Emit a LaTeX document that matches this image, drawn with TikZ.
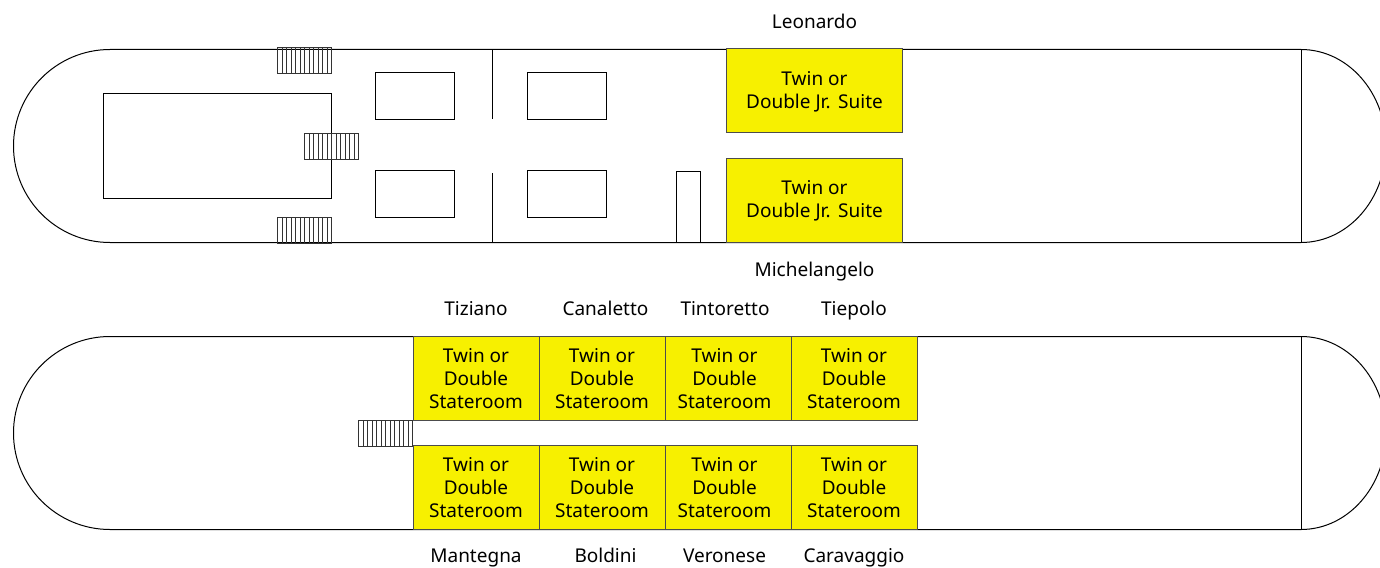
\documentclass[tikz,border=0pt]{standalone}
\usepackage{fontspec}
\setmainfont{Noto Sans}
\definecolor{cabinyellow}{HTML}{F7F000}
\tikzset{
  deck/.style={draw=black, line width=0.75pt},
  cabin/.style={deck, draw=black!70, fill=cabinyellow},
  cabintext/.style={align=center, font=\fontsize{14.25pt}{17.25pt}\selectfont, inner sep=0pt, text=black, anchor=base},
  deckname/.style={font=\fontsize{14.25pt}{17.25pt}\selectfont, inner sep=0pt, text=black, anchor=base},
  stairline/.style={draw=black!80, line width=0.75pt}
}
\newcommand{\stairs}[2]{%
  \foreach \n in {0,...,12} {
    \draw[stairline] ({#1+4.5*\n},#2) -- ({#1+4.5*\n},#2+26);
  }
  \draw[stairline] (#1,#2) rectangle (#1+54,#2+26);
}
\begin{document}
\begin{tikzpicture}[x=0.75pt, y=-0.75pt]
\useasboundingbox (0,0) rectangle (1380,567);
\clip (0,0) rectangle (1380,567);
% upper deck
\draw[deck] (1301,49.5) -- (110,49.5) arc[start angle=270, end angle=90, radius=96.5] -- (1301,242.5);
\draw[deck] (1301,49.5) arc[start angle=270, end angle=450, x radius=85, y radius=96.5];
\draw[deck] (1301,49.5) -- (1301,242.5);
\draw[deck] (103.5,93.5) rectangle (331.5,198.5);
\draw[deck] (375.5,72.5) rectangle (454.5,119.5);
\draw[deck] (375.5,170.5) rectangle (454.5,217.5);
\draw[deck] (527.5,72.5) rectangle (606.5,119.5);
\draw[deck] (527.5,170.5) rectangle (606.5,217.5);
\draw[deck] (492.5,49.5) -- (492.5,119);
\draw[deck] (492.5,173) -- (492.5,242.5);
\draw[deck] (676.5,171) rectangle (700.5,242);
\stairs{277.5}{48}
\stairs{277.5}{217}
\stairs{304.5}{133}
\draw[cabin] (726.5,49) rectangle (902.5,132.5);
\draw[cabin] (726.5,158) rectangle (902.5,242.5);
\node[cabintext] (suitetop) at (814.5,108.7) {Twin or\\Double Jr.\ \kern2pt Suite};
\node[cabintext] (suitebot) at (814.5,217.3) {Twin or\\Double Jr.\ \kern2pt Suite};
\node[deckname] (leonardo) at (814.5,28.5) {Leonardo};
\node[deckname] (michelangelo) at (814.5,276) {Michelangelo};
% lower deck
\draw[deck] (1301,336.5) -- (110,336.5) arc[start angle=270, end angle=90, radius=96.5] -- (1301,529.5);
\draw[deck] (1301,336.5) arc[start angle=270, end angle=450, x radius=85, y radius=96.5];
\draw[deck] (1301,336.5) -- (1301,529.5);
\stairs{358.5}{420}
\foreach \xa/\xb in {413.5/539, 539/665.5, 665.5/791, 791/917.5} {
  \draw[cabin] (\xa,336.5) rectangle (\xb,420);
  \draw[cabin] (\xa,445.5) rectangle (\xb,529.5);
}
\foreach \x/\nm in {476/a, 602/b, 724.5/c, 854/d} {
  \node[cabintext] (top\nm) at (\x,408) {Twin or\\Double\\Stateroom};
  \node[cabintext] (bot\nm) at (\x,517) {Twin or\\Double\\Stateroom};
}
\node[deckname] (tiziano) at (476,315) {Tiziano};
\node[deckname] (canaletto) at (605.5,315) {Canaletto};
\node[deckname] (tintoretto) at (725,315) {Tintoretto};
\node[deckname] (tiepolo) at (854,315) {Tiepolo};
\node[deckname] (mantegna) at (476,562) {Mantegna};
\node[deckname] (boldini) at (605.5,562) {Boldini};
\node[deckname] (veronese) at (724.5,562) {Veronese};
\node[deckname] (caravaggio) at (854,562) {Caravaggio};
\end{tikzpicture}
\end{document}
